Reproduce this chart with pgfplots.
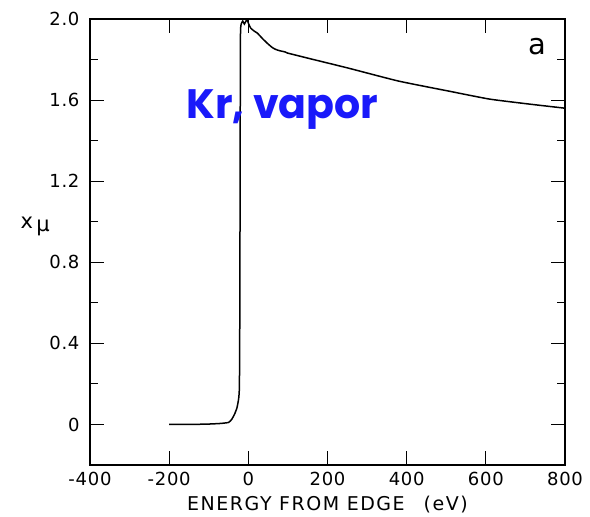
\documentclass[border=0pt]{standalone}
\usepackage{pgfplots}
\pgfplotsset{compat=1.18}
\usepackage{fontspec}
\setmainfont{DejaVu Sans}
\newfontfamily\kfont{Poppins}
\newfontfamily\lblfont[LetterSpace=4]{DejaVu Sans}
\newfontfamily\xlblfont[LetterSpace=8]{DejaVu Sans}
\definecolor{kblue}{RGB}{25,25,250}
\begin{document}
\begin{tikzpicture}
\begin{axis}[name=ax, scale only axis, width=475pt, height=446pt,
  clip mode=individual,
  xmin=-400, xmax=800, ymin=-0.2, ymax=2.0,
  axis line style={line width=1.3pt},
  xtick={-400,-200,0,200,400,600,800},
  xticklabels={-400,-200,0,200,400,600,800},
  ytick={0,0.4,0.8,1.2,1.6,2.0},
  yticklabels={0,0.4,0.8,1.2,1.6,2.0},
  minor ytick={0.2,0.6,1.0,1.4,1.8},
  tick align=inside,
  major tick length=14pt, minor tick length=8pt,
  tick style={line width=1.1pt, black},
  ticklabel style={font=\lblfont\fontsize{18}{20}\selectfont},
  xticklabel style={yshift=-4pt},
  yticklabel style={xshift=-7pt},
  xlabel={ENERGY FROM EDGE\quad (eV)},
  xlabel style={font=\xlblfont\fontsize{19}{21}\selectfont, yshift=-3pt},
]
\addplot[black, line width=1.5pt, smooth, tension=0.3] coordinates {
(-200,0) (-150,0) (-100,0.002) (-70,0.005) (-50,0.01) (-42,0.025) (-35,0.05)
(-29,0.08) (-25,0.12) (-23,0.16) (-22,0.3) (-21.5,0.6) (-21,1.0) (-20.5,1.5)
(-20,1.9) (-19,1.965) (-17,1.98) (-14,1.99) (-10,1.975) (-6,1.99) (-3,1.995)
(1,1.975) (6,1.955) (15,1.94) (23,1.93) (35,1.905) (48,1.88) (60,1.86)
(69,1.85) (80,1.843) (92,1.838) (99,1.832) (150,1.807) (252,1.758)
(379,1.694) (507,1.644) (609,1.605) (711,1.58) (800,1.56)
};
\node[anchor=base west, text=kblue, inner sep=0pt] at (axis cs:-157,1.51)
  {\resizebox{192pt}{!}{\kfont\bfseries Kr, vapor}};
\node[anchor=base, inner sep=0pt] at (axis cs:731,1.827)
  {\fontsize{29}{31}\selectfont a};
\node[anchor=base east, inner sep=0pt, xshift=-40pt] at (rel axis cs:0,0.531)
  {\fontsize{21}{23}\selectfont x\,\raisebox{-3pt}{μ}};
\end{axis}
\pgfresetboundingbox
\path[use as bounding box] ([xshift=-90pt,yshift=-51pt]ax.south west)
  rectangle ([xshift=25pt,yshift=19pt]ax.north east);
\end{tikzpicture}
\end{document}
